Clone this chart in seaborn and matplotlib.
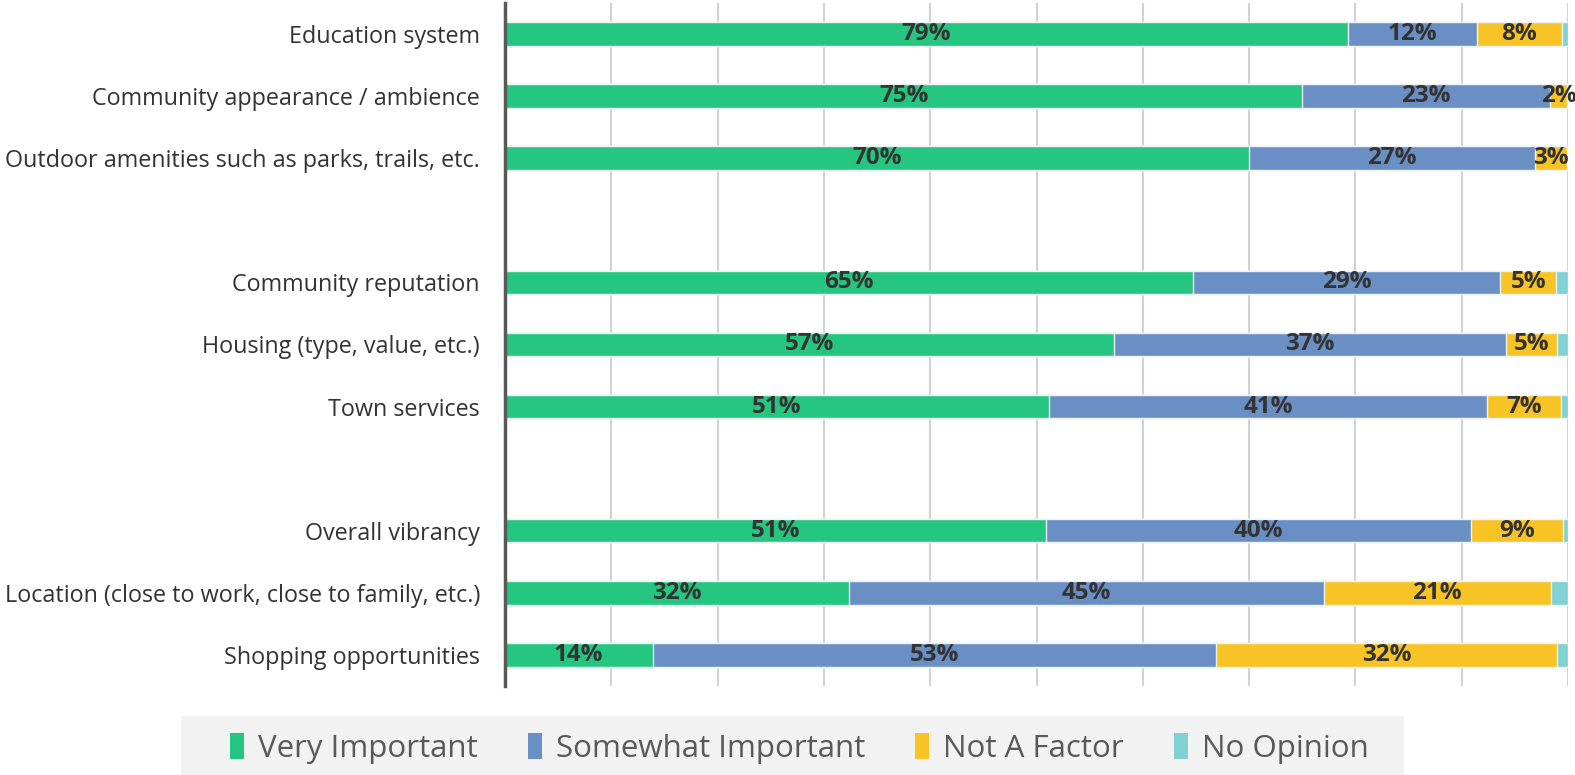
import matplotlib
matplotlib.use("Agg")
import matplotlib.pyplot as plt
from matplotlib.patches import Patch, Rectangle
import seaborn as sns
import numpy as np
import pandas as pd

categories = [
    "Education system",
    "Community appearance / ambience",
    "Outdoor amenities such as parks, trails, etc.",
    "Community reputation",
    "Housing (type, value, etc.)",
    "Town services",
    "Overall vibrancy",
    "Location (close to work, close to family, etc.)",
    "Shopping opportunities",
]
very_important = [79.3, 75.0, 70.0, 64.7, 57.3, 51.2, 50.9, 32.4, 13.9]
somewhat_important = [12.1, 23.3, 26.9, 28.9, 36.9, 41.2, 40.0, 44.6, 53.0]
not_a_factor = [8.0, 1.6, 3.0, 5.3, 4.8, 6.9, 8.6, 21.4, 32.1]
no_opinion = [0.6, 0.1, 0.1, 1.1, 1.0, 0.7, 0.5, 1.6, 1.0]
series_names = ["Very Important", "Somewhat Important", "Not A Factor", "No Opinion"]
colors = ["#25C780", "#6A8FC4", "#F8C425", "#7FD1D3"]

# row slots (gaps after 3rd and 6th category)
slots = [0, 1, 2, 4, 5, 6, 8, 9, 10]

sns.set_theme(style="white")
plt.rcParams['font.family'] = ['Open Sans', 'DejaVu Sans']

fig = plt.figure(figsize=(15.75, 7.75), dpi=100)
ax = fig.add_axes([0.3206, 0.115, 0.675, 0.881])

series = [very_important, somewhat_important, not_a_factor, no_opinion]
cum = np.cumsum(np.array(series), axis=0)

df = pd.DataFrame({"slot": slots})
for i in range(3, -1, -1):
    df["val"] = cum[i]
    sns.barplot(data=df, x="val", y="slot", orient="y", native_scale=True,
                color=colors[i], saturation=1, width=0.38, ax=ax,
                edgecolor="#EEF3F8", linewidth=1.0, errorbar=None)

for i in range(3):
    starts = cum[i] - np.array(series[i])
    for s, st, v in zip(slots, starts, series[i]):
        ax.text(st + v / 2, s, f"{int(round(v))}%", ha="center", va="center",
                fontsize=17.5, fontweight="bold", color="#333333")

ax.set_xlim(0, 100)
ax.set_ylim(10.5, -0.5)
ax.set_xticks(np.arange(0, 101, 10))
ax.set_xticklabels([])
ax.xaxis.grid(True, color="#D2D2D2", linewidth=1.5)
ax.yaxis.grid(False)
ax.set_axisbelow(True)
ax.set_yticks(slots)
ax.set_yticklabels(categories, fontsize=16.8, color="#333333")
ax.tick_params(axis="y", length=0, pad=18)
ax.tick_params(axis="x", length=0)
ax.set_xlabel("")
ax.set_ylabel("")
for sp in ["top", "right", "bottom"]:
    ax.spines[sp].set_visible(False)
ax.spines["left"].set_color("#595959")
ax.spines["left"].set_linewidth(2.5)

# legend background band
fig.patches.append(Rectangle((181 / 1575, 0.0), (1404 - 181) / 1575, (775 - 716) / 775,
                             transform=fig.transFigure, facecolor="#F2F2F2",
                             edgecolor="none", zorder=0))

handles = [Patch(facecolor=c, edgecolor="none") for c in colors]
leg = fig.legend(handles, series_names, loc="center", bbox_to_anchor=(0.5075, 0.034),
                 ncol=4, frameon=False, fontsize=22.5, handlelength=0.45, handleheight=0.9,
                 handletextpad=0.45, columnspacing=1.6, borderpad=0.0,
                 labelcolor="#595959")

fig.savefig("out.png", dpi=100)
